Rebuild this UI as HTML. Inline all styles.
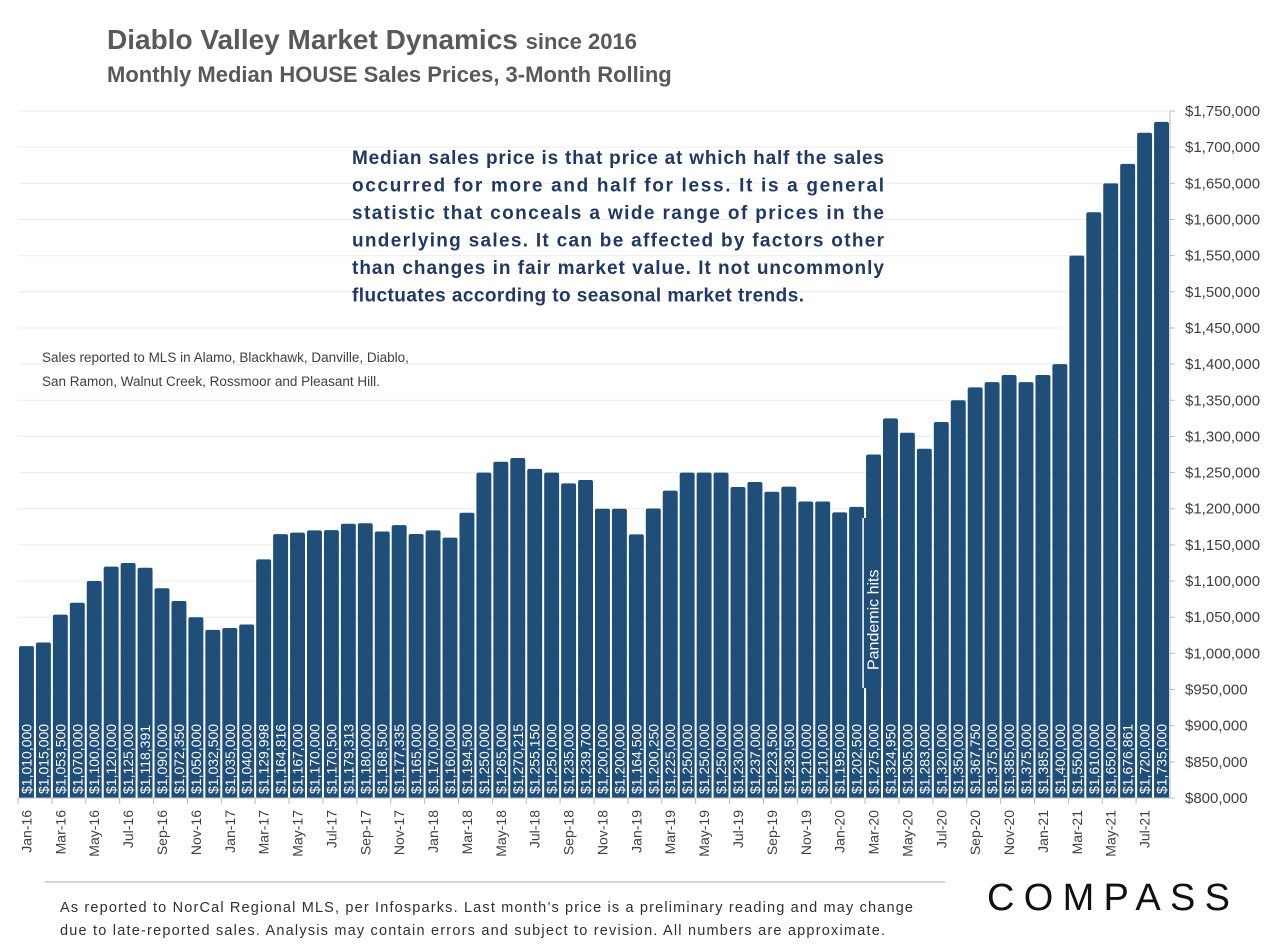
<!DOCTYPE html>
<html><head><meta charset="utf-8">
<style>
body{margin:0;background:#fff;width:1286px;height:944px;overflow:hidden;font-family:"Liberation Sans",sans-serif;}
svg{position:absolute;left:0;top:0;}
</style></head>
<body>
<svg id="chart" width="1286" height="944"></svg>
<script>
const categories=[];
const monthNames=["Jan","Feb","Mar","Apr","May","Jun","Jul","Aug","Sep","Oct","Nov","Dec"];
for(let y=16;y<=21;y++)for(let m=0;m<12;m++){if(y===21&&m>7)break;categories.push(monthNames[m]+"-"+y);}
const values=[1010000,1015000,1053500,1070000,1100000,1120000,1125000,1118391,1090000,1072350,1050000,1032500,
1035000,1040000,1129998,1164816,1167000,1170000,1170500,1179313,1180000,1168500,1177335,1165000,
1170000,1160000,1194500,1250000,1265000,1270215,1255150,1250000,1235000,1239700,1200000,1200000,
1164500,1200250,1225000,1250000,1250000,1250000,1230000,1237000,1223500,1230500,1210000,1210000,
1195000,1202500,1275000,1324950,1305000,1283000,1320000,1350000,1367750,1375000,1385000,1375000,
1385000,1400000,1550000,1610000,1650000,1676861,1720000,1735000];
const yTicks=[800000,850000,900000,950000,1000000,1050000,1100000,1150000,1200000,1250000,1300000,1350000,1400000,1450000,1500000,1550000,1600000,1650000,1700000,1750000];
const yMin=800000,yMax=1750000;
const plotL=18,plotR=1170,plotB=798,plotT=111;
const slot=(plotR-plotL)/categories.length;
const xs=i=>plotL+i*slot;
const ys=v=>plotB-(v-yMin)/(yMax-yMin)*(plotB-plotT);
const svg=document.getElementById('chart');
const NS="http://www.w3.org/2000/svg";
function mk(t,a,txt){const e=document.createElementNS(NS,t);for(const k in a)e.setAttribute(k,a[k]);if(txt!==undefined)e.textContent=txt;svg.appendChild(e);return e;}
const fmt=v=>"$"+v.toLocaleString("en-US");
yTicks.forEach(v=>{
 const g=mk('line',{x1:plotL,x2:plotR,y1:ys(v),y2:ys(v),stroke:'#ececec','stroke-width':1});
 
 
 mk('line',{x1:plotR,x2:plotR+5,y1:ys(v),y2:ys(v),stroke:'#bbb'});
 const t=mk('text',{x:plotR+15,y:ys(v)+5,'font-size':15,fill:'#404040'},fmt(v));
 
 
});
mk('line',{x1:plotR,x2:plotR,y1:plotT,y2:plotB,stroke:'#bbb'});
values.forEach((v,i)=>{
 const x=xs(i)+1,w=slot-2,y=ys(v);
 const b=mk('path',{d:`M${x},${plotB}V${y+2}Q${x},${y} ${x+2},${y}H${x+w-2}Q${x+w},${y} ${x+w},${y+2}V${plotB}Z`,fill:'#1f4e79'});
 
 
 const cx=x+w/2+5;
 const t=mk('text',{x:cx,y:plotB-4,transform:`rotate(-90 ${cx} ${plotB-4})`,'font-size':14,fill:'#fff'},fmt(v));
 
 
});
mk('line',{x1:plotL,x2:plotR,y1:plotB,y2:plotB,stroke:'#bbb'});
categories.forEach((c,i)=>{
 if(i%2===0){
  mk('line',{x1:xs(i),x2:xs(i),y1:plotB,y2:plotB+6,stroke:'#bbb'});
  const cx=xs(i)+slot/2+5,cy=plotB+12;
  const t=mk('text',{x:cx,y:cy,transform:`rotate(-90 ${cx} ${cy})`,'font-size':14,fill:'#404040','text-anchor':'end'},c);
  
  
 }
});
const pi=categories.indexOf("Mar-20");
const pm=mk('rect',{x:xs(pi)-2,y:518,width:slot+2,height:170,fill:'#1f4e79'});


mk('line',{x1:xs(pi)-2,x2:xs(pi)-2,y1:518,y2:688,stroke:'#fff','stroke-width':1.5});
mk('line',{x1:xs(pi)+slot,x2:xs(pi)+slot,y1:518,y2:688,stroke:'#fff','stroke-width':1.5});
const pcx=xs(pi)+slot/2+5;
const pt=mk('text',{x:pcx,y:670,transform:`rotate(-90 ${pcx} 670)`,'font-size':16,fill:'#fff'},'Pandemic hits');


function txt(x,y,s,size,fill,weight,name){const t=mk('text',{x:x,y:y,'font-size':size,fill:fill,'font-weight':weight||'normal'},s);return t;}
const t1=txt(107,49,'Diablo Valley Market Dynamics ',28,'#595959','bold','chart-title');
const ts=document.createElementNS(NS,'tspan');ts.setAttribute('font-size',22);ts.textContent='since 2016';t1.appendChild(ts);
txt(107,82,'Monthly Median HOUSE Sales Prices, 3-Month Rolling',22,'#595959','bold','chart-subtitle');
const note=["Median sales price is that price at which half the sales","occurred for more and half for less. It is a general","statistic that conceals a wide range of prices in the","underlying sales. It can be affected by factors other","than changes in fair market value. It not uncommonly","fluctuates according to seasonal market trends."];
note.forEach((l,i)=>{const t=txt(352,164+i*27.5,l,19,'#1f3864','bold','definition-note');if(i<5){t.setAttribute('textLength',532);t.setAttribute('lengthAdjust','spacing');}else{t.setAttribute('textLength',452);t.setAttribute('lengthAdjust','spacing');}});
txt(42,362,'Sales reported to MLS in Alamo, Blackhawk, Danville, Diablo,',13.5,'#404040','normal','source-areas-note');
txt(42,386,'San Ramon, Walnut Creek, Rossmoor and Pleasant Hill.',13.5,'#404040','normal','source-areas-note');
mk('line',{x1:45,x2:945,y1:882,y2:882,stroke:'#aaa'});
const f1=txt(60,912,'As reported to NorCal Regional MLS, per Infosparks. Last month\u2019s price is a preliminary reading and may change',14.5,'#303030','normal','footer-note');
f1.setAttribute('textLength',853);
const f2=txt(60,935,'due to late-reported sales. Analysis may contain errors and subject to revision. All numbers are approximate.',14.5,'#303030','normal','footer-note');
f2.setAttribute('textLength',825);
const logo=txt(987,910,'COMPASS',38,'#111','normal','compass-logo');
logo.setAttribute('textLength',243);
logo.setAttribute('lengthAdjust','spacing');
</script>
</body></html>
